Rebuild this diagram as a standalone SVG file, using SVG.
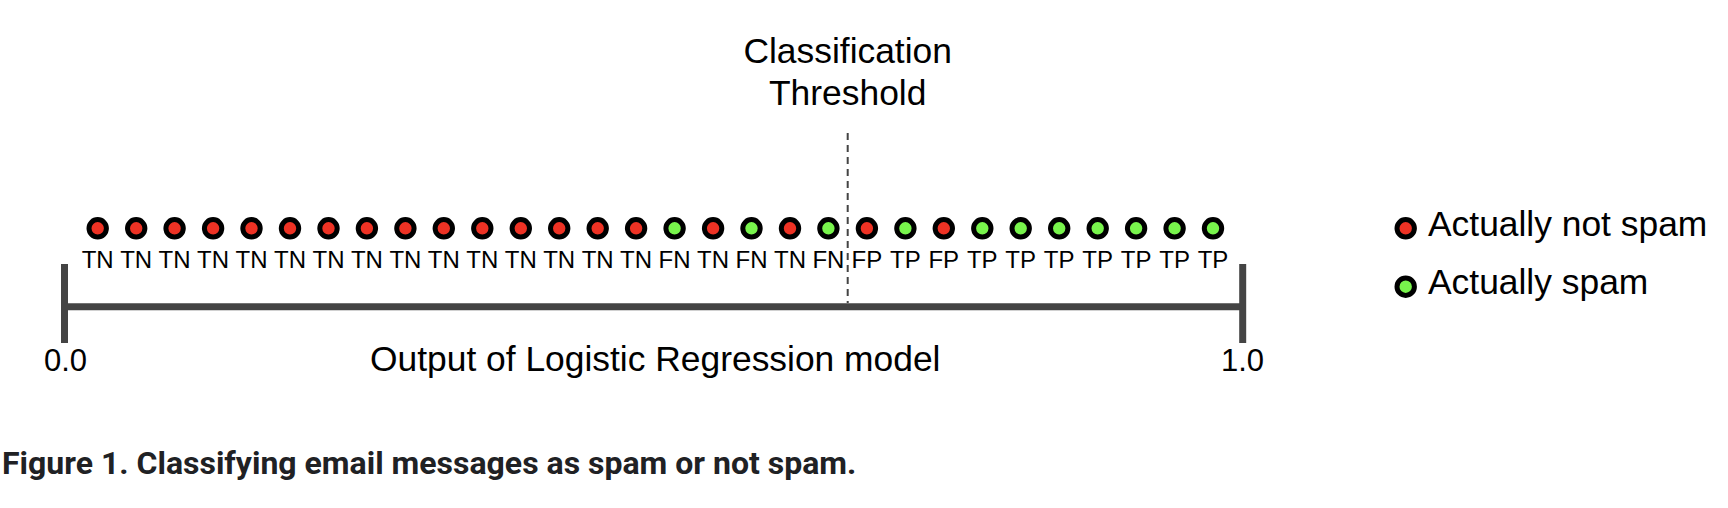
<svg xmlns="http://www.w3.org/2000/svg" width="1728" height="508" viewBox="0 0 1728 508">
<style>
.t{font-family:"Liberation Sans",Arial,sans-serif;fill:#000}
.lab{font-size:24px;text-anchor:middle}
.big{font-size:35.4px}
.num{font-size:31px}
.neg{fill:#EE3224;stroke:#000;stroke-width:5}
.pos{fill:#78F44C;stroke:#000;stroke-width:5}
.axis{stroke:#444;stroke-width:7;fill:none}
.cap{font-family:Roboto,"Liberation Sans",sans-serif;font-weight:bold;font-size:32px;fill:#202124}
</style>
<rect width="1728" height="508" fill="#fff"/>
<g id="connectors">
<line class="axis" x1="64.5" y1="306.7" x2="1242.7" y2="306.7"/>
<line class="axis" x1="64.5" y1="264" x2="64.5" y2="343"/>
<line class="axis" x1="1242.7" y1="264" x2="1242.7" y2="343"/>
<line x1="847.7" y1="133" x2="847.7" y2="303" stroke="#444" stroke-width="2" stroke-dasharray="7,5"/>
</g>
<g id="threshold"><text class="t big" text-anchor="middle" x="847.7" y="63">Classification</text><text class="t big" text-anchor="middle" x="847.7" y="105">Threshold</text></g>
<g id="p0"><circle class="neg" cx="97.7" cy="228.3" r="8.7"/><text class="t lab" x="97.7" y="268">TN</text></g>
<g id="p1"><circle class="neg" cx="136.2" cy="228.3" r="8.7"/><text class="t lab" x="136.2" y="268">TN</text></g>
<g id="p2"><circle class="neg" cx="174.6" cy="228.3" r="8.7"/><text class="t lab" x="174.6" y="268">TN</text></g>
<g id="p3"><circle class="neg" cx="213.1" cy="228.3" r="8.7"/><text class="t lab" x="213.1" y="268">TN</text></g>
<g id="p4"><circle class="neg" cx="251.5" cy="228.3" r="8.7"/><text class="t lab" x="251.5" y="268">TN</text></g>
<g id="p5"><circle class="neg" cx="290.0" cy="228.3" r="8.7"/><text class="t lab" x="290.0" y="268">TN</text></g>
<g id="p6"><circle class="neg" cx="328.5" cy="228.3" r="8.7"/><text class="t lab" x="328.5" y="268">TN</text></g>
<g id="p7"><circle class="neg" cx="366.9" cy="228.3" r="8.7"/><text class="t lab" x="366.9" y="268">TN</text></g>
<g id="p8"><circle class="neg" cx="405.4" cy="228.3" r="8.7"/><text class="t lab" x="405.4" y="268">TN</text></g>
<g id="p9"><circle class="neg" cx="443.8" cy="228.3" r="8.7"/><text class="t lab" x="443.8" y="268">TN</text></g>
<g id="p10"><circle class="neg" cx="482.3" cy="228.3" r="8.7"/><text class="t lab" x="482.3" y="268">TN</text></g>
<g id="p11"><circle class="neg" cx="520.8" cy="228.3" r="8.7"/><text class="t lab" x="520.8" y="268">TN</text></g>
<g id="p12"><circle class="neg" cx="559.2" cy="228.3" r="8.7"/><text class="t lab" x="559.2" y="268">TN</text></g>
<g id="p13"><circle class="neg" cx="597.7" cy="228.3" r="8.7"/><text class="t lab" x="597.7" y="268">TN</text></g>
<g id="p14"><circle class="neg" cx="636.1" cy="228.3" r="8.7"/><text class="t lab" x="636.1" y="268">TN</text></g>
<g id="p15"><circle class="pos" cx="674.6" cy="228.3" r="8.7"/><text class="t lab" x="674.6" y="268">FN</text></g>
<g id="p16"><circle class="neg" cx="713.1" cy="228.3" r="8.7"/><text class="t lab" x="713.1" y="268">TN</text></g>
<g id="p17"><circle class="pos" cx="751.5" cy="228.3" r="8.7"/><text class="t lab" x="751.5" y="268">FN</text></g>
<g id="p18"><circle class="neg" cx="790.0" cy="228.3" r="8.7"/><text class="t lab" x="790.0" y="268">TN</text></g>
<g id="p19"><circle class="pos" cx="828.4" cy="228.3" r="8.7"/><text class="t lab" x="828.4" y="268">FN</text></g>
<g id="p20"><circle class="neg" cx="866.9" cy="228.3" r="8.7"/><text class="t lab" x="866.9" y="268">FP</text></g>
<g id="p21"><circle class="pos" cx="905.4" cy="228.3" r="8.7"/><text class="t lab" x="905.4" y="268">TP</text></g>
<g id="p22"><circle class="neg" cx="943.8" cy="228.3" r="8.7"/><text class="t lab" x="943.8" y="268">FP</text></g>
<g id="p23"><circle class="pos" cx="982.3" cy="228.3" r="8.7"/><text class="t lab" x="982.3" y="268">TP</text></g>
<g id="p24"><circle class="pos" cx="1020.7" cy="228.3" r="8.7"/><text class="t lab" x="1020.7" y="268">TP</text></g>
<g id="p25"><circle class="pos" cx="1059.2" cy="228.3" r="8.7"/><text class="t lab" x="1059.2" y="268">TP</text></g>
<g id="p26"><circle class="pos" cx="1097.7" cy="228.3" r="8.7"/><text class="t lab" x="1097.7" y="268">TP</text></g>
<g id="p27"><circle class="pos" cx="1136.1" cy="228.3" r="8.7"/><text class="t lab" x="1136.1" y="268">TP</text></g>
<g id="p28"><circle class="pos" cx="1174.6" cy="228.3" r="8.7"/><text class="t lab" x="1174.6" y="268">TP</text></g>
<g id="p29"><circle class="pos" cx="1213.0" cy="228.3" r="8.7"/><text class="t lab" x="1213.0" y="268">TP</text></g>
<g id="axis-labels">
<text class="t num" x="44" y="371">0.0</text>
<text class="t num" x="1221" y="371">1.0</text>
<text class="t big" x="370" y="371">Output of Logistic Regression model</text>
</g>
<g id="legend-neg"><circle class="neg" cx="1405.7" cy="228.3" r="8.7"/><text class="t big" x="1428" y="236">Actually not spam</text></g>
<g id="legend-pos"><circle class="pos" cx="1405.7" cy="286.7" r="8.7"/><text class="t big" x="1428" y="294">Actually spam</text></g>
<g id="caption"><text class="cap" x="2" y="474">Figure 1. Classifying email messages as spam or not spam.</text></g>
</svg>
